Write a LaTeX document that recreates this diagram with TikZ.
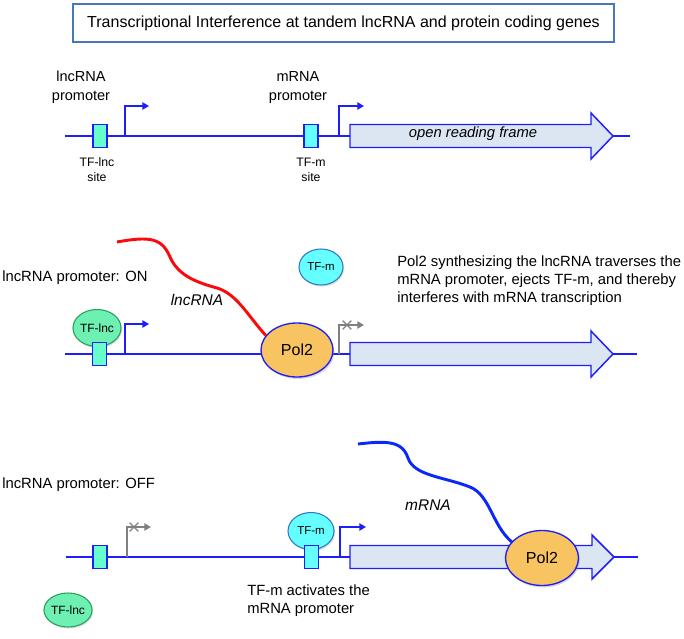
\documentclass[tikz,border=0pt]{standalone}
\usepackage{fontspec}
\setmainfont{Liberation Sans}
\usetikzlibrary{arrows.meta,shadows,shapes.geometric,shapes.misc}

\definecolor{dnablue}{RGB}{30,30,250}
\definecolor{orffill}{RGB}{220,230,242}
\definecolor{lncbox}{RGB}{102,255,204}
\definecolor{lncfill}{RGB}{110,240,178}
\definecolor{lncline}{RGB}{40,160,90}
\definecolor{mfill}{RGB}{102,255,255}
\definecolor{mline}{RGB}{50,120,200}
\definecolor{polfill}{RGB}{248,196,98}
\definecolor{titleline}{RGB}{70,120,190}
\definecolor{rnared}{RGB}{250,10,10}
\definecolor{rnablue}{RGB}{10,40,250}

\begin{document}
\begin{tikzpicture}[x=0.75pt, y=-0.75pt,
    dna/.style={draw=dnablue, line width=1.1pt},
    orf/.style={draw=dnablue, line width=1.1pt, fill=orffill},
    site/.style={rectangle, draw=dnablue, line width=0.9pt, minimum width=10.5pt, minimum height=17.25pt, inner sep=0pt},
    prom/.style={draw=dnablue, line width=1.1pt, -{Triangle[length=5pt, width=5.5pt]}},
    promoff/.style={draw=gray, line width=1.1pt, -{Triangle[length=5pt, width=5.5pt]}},
    offx/.style={cross out, draw=gray, line width=1pt, minimum size=5.5pt, inner sep=0pt},
    tflnc/.style={ellipse, draw=lncline, line width=0.8pt, fill=lncfill, inner sep=0pt, font=\fontsize{9}{10}\selectfont, drop shadow={shadow xshift=0.8pt, shadow yshift=-1.2pt, opacity=0.25}},
    tfm/.style={ellipse, draw=mline, line width=0.8pt, fill=mfill, inner sep=0pt, font=\fontsize{8.6}{10}\selectfont, drop shadow={shadow xshift=0.8pt, shadow yshift=-1.2pt, opacity=0.25}},
    pol/.style={ellipse, draw=dnablue, line width=1pt, fill=polfill, inner sep=0pt, font=\fontsize{12}{14}\selectfont, drop shadow={shadow xshift=1pt, shadow yshift=-1.5pt, opacity=0.3}},
    rna/.style={line width=2.2pt},
    txt/.style={inner sep=0pt, font=\fontsize{11.1}{13.3}\selectfont},
    small/.style={inner sep=0pt, align=center, font=\fontsize{9.2}{11.25}\selectfont}]
    \useasboundingbox (0,0) rectangle (684,638);

    % タイトル
    \node[draw=titleline, line width=1pt, minimum width=405.75pt, minimum height=28.5pt, font=\fontsize{12}{14}\selectfont] (title) at (343.5, 23) {Transcriptional Interference at tandem lncRNA and protein coding genes};

    % 1段目: 遺伝子の配置
    \coordinate (dna1s) at (65, 136);
    \coordinate (dna1e) at (630, 136);
    \draw[dna] (dna1s) -- (dna1e);
    \draw[orf, shift={(0,136)}] (350,-11.5) -- (591,-11.5) -- (591,-23) -- (613,0) -- (591,23) -- (591,11.5) -- (350,11.5) -- cycle;
    \node[txt, font=\fontsize{11.1}{13.3}\selectfont\itshape] (orf1) at (473, 134) {open reading frame};

    \node[site, fill=lncbox] (lncsite1) at (100, 136) {};
    \node[site, fill=mfill] (msite1) at (311, 136) {};

    \coordinate (lncp1) at (125, 136);
    \coordinate (lncp1e) at (149, 106);
    \draw[prom] (lncp1) |- (lncp1e);
    \coordinate (mp1) at (339, 136);
    \coordinate (mp1e) at (364, 106);
    \draw[prom] (mp1) |- (mp1e);

    \node[txt, align=center, font=\fontsize{10.9}{14.25}\selectfont] (lncprom) at (81, 87.5) {lncRNA\\promoter};
    \node[txt, align=center, font=\fontsize{10.9}{14.25}\selectfont] (mprom) at (298, 87.5) {mRNA\\promoter};
    \node[small] (lnclabel) at (97, 169.5) {TF-lnc\\site};
    \node[small] (mlabel) at (311, 169.5) {TF-m\\site};

    % 2段目: lncRNAプロモーター ON
    \coordinate (dna2s) at (65, 354);
    \coordinate (dna2e) at (637, 354);
    \draw[dna] (dna2s) -- (dna2e);
    \draw[orf, shift={(0,354)}] (350,-11.5) -- (591,-11.5) -- (591,-23) -- (613,0) -- (591,23) -- (591,11.5) -- (350,11.5) -- cycle;

    \node[tflnc, minimum width=33pt, minimum height=27.75pt] (tflnc2) at (97, 328) {TF-lnc};
    \node[site, fill=lncbox] (lncsite2) at (99.5, 354) {};

    \coordinate (lncp2) at (125, 354);
    \coordinate (lncp2e) at (149, 324);
    \draw[prom] (lncp2) |- (lncp2e);
    \coordinate (mp2) at (339, 354);
    \coordinate (mp2e) at (364, 325);
    \draw[promoff] (mp2) |- (mp2e);
    \node[offx] (mx2) at (347, 325) {};

    \node[pol, minimum width=54pt, minimum height=40.5pt] (pol2a) at (297, 350) {Pol2};
    \coordinate (lncend) at (117, 242);
    \draw[rna, rnared] (lncend) .. controls (150,236) and (162,238) .. (170,257)
        .. controls (178,275) and (195,282) .. (217,288)
        .. controls (237,294) and (248,316) .. (pol2a.155);

    \node[tfm, minimum width=33pt, minimum height=27pt] (tfm2) at (321, 267) {TF-m};

    \node[txt, anchor=west] (on) at (2, 278) {lncRNA promoter: ON};
    \node[txt, font=\fontsize{11.6}{13.3}\selectfont\itshape] (lncrna) at (197, 300) {lncRNA};
    \node[txt, anchor=west, align=left] (note2) at (397, 280.5) {Pol2 synthesizing the lncRNA traverses the\\mRNA promoter, ejects TF-m, and thereby\\interferes with mRNA transcription};

    % 3段目: lncRNAプロモーター OFF
    \coordinate (dna3s) at (66, 557);
    \coordinate (dna3e) at (638, 557);
    \draw[dna] (dna3s) -- (dna3e);
    \draw[orf, shift={(0,557)}] (350,-11.5) -- (592,-11.5) -- (592,-22) -- (614,0) -- (592,22) -- (592,11.5) -- (350,11.5) -- cycle;

    \node[site, fill=lncbox] (lncsite3) at (100, 557) {};
    \node[tfm, minimum width=34.5pt, minimum height=27.75pt] (tfm3) at (311, 531) {TF-m};
    \node[site, fill=mfill] (msite3) at (311.5, 557) {};

    \coordinate (lncp3) at (127, 557);
    \coordinate (lncp3e) at (151, 527);
    \draw[promoff] (lncp3) |- (lncp3e);
    \node[offx] (lncx3) at (134, 527) {};
    \coordinate (mp3) at (340, 557);
    \coordinate (mp3e) at (366, 527);
    \draw[prom] (mp3) |- (mp3e);

    \node[tflnc, minimum width=34.5pt, minimum height=25.5pt] (tflnc3) at (68, 610) {TF-lnc};

    \node[pol, minimum width=54.75pt, minimum height=41.25pt] (pol2b) at (542, 558) {Pol2};
    \coordinate (mend) at (358, 444);
    \draw[rna, rnablue] (mend) .. controls (385,441) and (402,440) .. (408,458)
        .. controls (414,476) and (445,477) .. (470,487)
        .. controls (490,495) and (492,525) .. (pol2b.152);

    \node[txt, anchor=west] (off) at (2, 485) {lncRNA promoter: OFF};
    \node[txt, font=\fontsize{11.6}{13.3}\selectfont\itshape] (mrna) at (428, 505) {mRNA};
    \node[txt, anchor=west, align=left, font=\fontsize{11.1}{13.5}\selectfont] (note3) at (247, 601) {TF-m activates the\\mRNA promoter};

\end{tikzpicture}
\end{document}
